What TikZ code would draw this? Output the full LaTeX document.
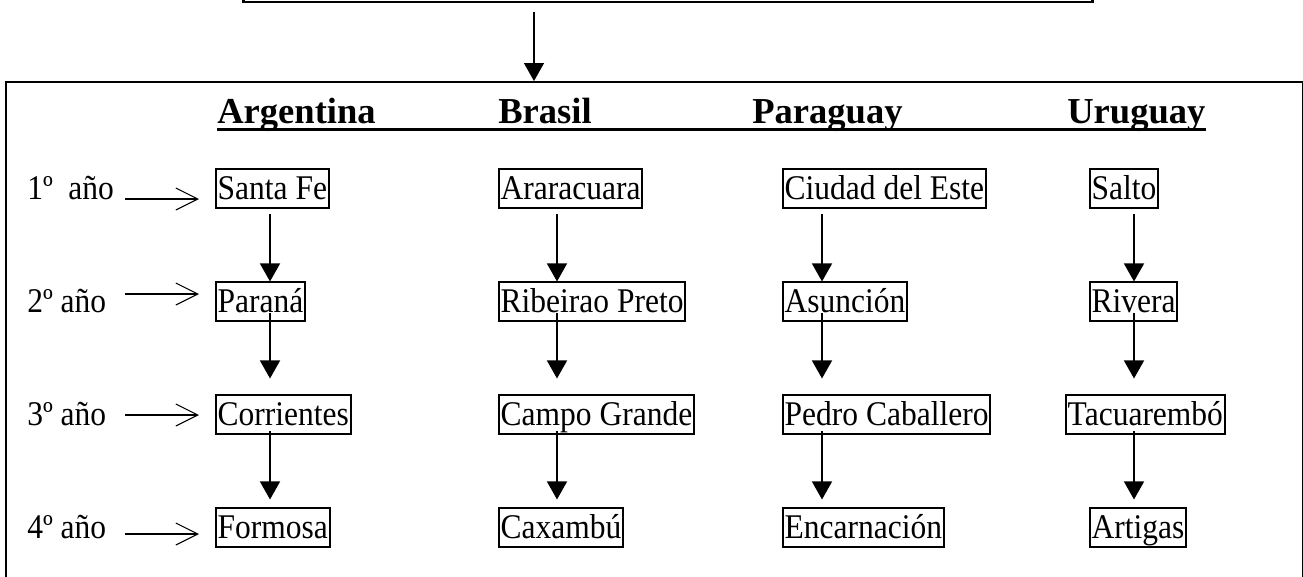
\documentclass[tikz,border=0pt]{standalone}
\usepackage{fontspec}
\setmainfont{Liberation Serif}
\newfontfamily\textofont[FakeStretch=0.91]{Liberation Serif}
\usetikzlibrary{arrows.meta}

\begin{document}
\begin{tikzpicture}[x=0.02cm, y=-0.02cm,
        ciudad/.style={draw, line width=1.1pt, anchor=base west, inner xsep=1pt, inner ysep=1pt,
                text height=16pt, text depth=4.1pt, font=\textofont\fontsize{19.7}{22}\selectfont},
        pais/.style={anchor=base west, inner sep=0pt, font=\fontsize{20.8}{24}\selectfont\bfseries},
        anio/.style={anchor=base west, inner sep=0pt, font=\textofont\fontsize{19.7}{22}\selectfont},
        baja/.style={line width=0.8pt, -{Triangle[length=0.36cm, width=0.4cm]}},
        entra/.style={line width=0.6pt, shorten >=0.32cm, -{Straight Barb[length=0.44cm, width=0.44cm]}}]

        \useasboundingbox (0,0) rectangle (1303,576);
        \clip (0,0) rectangle (1303,576);

        % marcos
        \node[draw, line width=1.7pt, minimum width=17cm, minimum height=1.2cm] (titulo) at (668,-28) {};
        \node[draw, line width=1.1pt, anchor=north west, minimum width=25.94cm, minimum height=10.4cm] (marco) at (5,81) {};
        \coordinate (caida) at (534,0);
        \draw[baja] ([yshift=-0.18cm]titulo.south -| caida) -- (marco.north -| caida);

        % paises
        \node[pais] (arg) at (217,123) {Argentina};
        \node[pais] (bra) at (498,123) {Brasil};
        \node[pais] (par) at (752,123) {Paraguay};
        \node[pais] (uru) at (1067,123) {Uruguay};
        \draw[line width=1.7pt] ([yshift=-0.13cm]arg.base west) -- ([yshift=-0.13cm]uru.base east);

        % años
        \node[anio] (l1) at (27,199.3) {1º\hspace{0.45em}año};
        \node[anio] (l2) at (27,312.3) {2º año};
        \node[anio] (l3) at (27,425.3) {3º año};
        \node[anio] (l4) at (27,538.3) {4º año};

        % ciudades
        \node[ciudad] (a1) at (215,199.3) {Santa Fe};
        \node[ciudad] (a2) at (215,312.3) {Paraná};
        \node[ciudad] (a3) at (215,425.3) {Corrientes};
        \node[ciudad] (a4) at (215,538.3) {Formosa};

        \node[ciudad] (b1) at (498,199.3) {Araracuara};
        \node[ciudad] (b2) at (498,312.3) {Ribeirao Preto};
        \node[ciudad] (b3) at (498,425.3) {Campo Grande};
        \node[ciudad] (b4) at (498,538.3) {Caxambú};

        \node[ciudad] (p1) at (782,199.3) {Ciudad del Este};
        \node[ciudad] (p2) at (782,312.3) {Asunción};
        \node[ciudad] (p3) at (782,425.3) {Pedro Caballero};
        \node[ciudad] (p4) at (782,538.3) {Encarnación};

        \node[ciudad] (u1) at (1089,199.3) {Salto};
        \node[ciudad] (u2) at (1089,312.3) {Rivera};
        \node[ciudad] (u3) at (1065,425.3) {Tacuarembó};
        \node[ciudad] (u4) at (1089,538.3) {Artigas};

        % flechas de los años
        \coordinate (f1) at (125,199);
        \coordinate (f2) at (125,294);
        \coordinate (f3) at (125,415);
        \coordinate (f4) at (125,534);
        \foreach \i in {1,...,4}
                \draw[entra] (f\i) -- (f\i -| a\i.west);

        % flechas de las columnas
        \coordinate (ca) at (270,0);
        \coordinate (cb) at (557,0);
        \coordinate (cp) at (822,0);
        \coordinate (cu) at (1134,0);
        \foreach \c in {a,b,p,u} {
                \draw[baja] ([yshift=-0.1cm]\c1.south -| c\c) -- (\c2.north -| c\c);
                \draw[baja] ([yshift=0.18cm]\c2.south -| c\c) -- ([yshift=0.32cm]\c3.north -| c\c);
                \draw[baja] ([yshift=0.08cm]\c3.south -| c\c) -- ([yshift=0.16cm]\c4.north -| c\c);
        }

\end{tikzpicture}
\end{document}
